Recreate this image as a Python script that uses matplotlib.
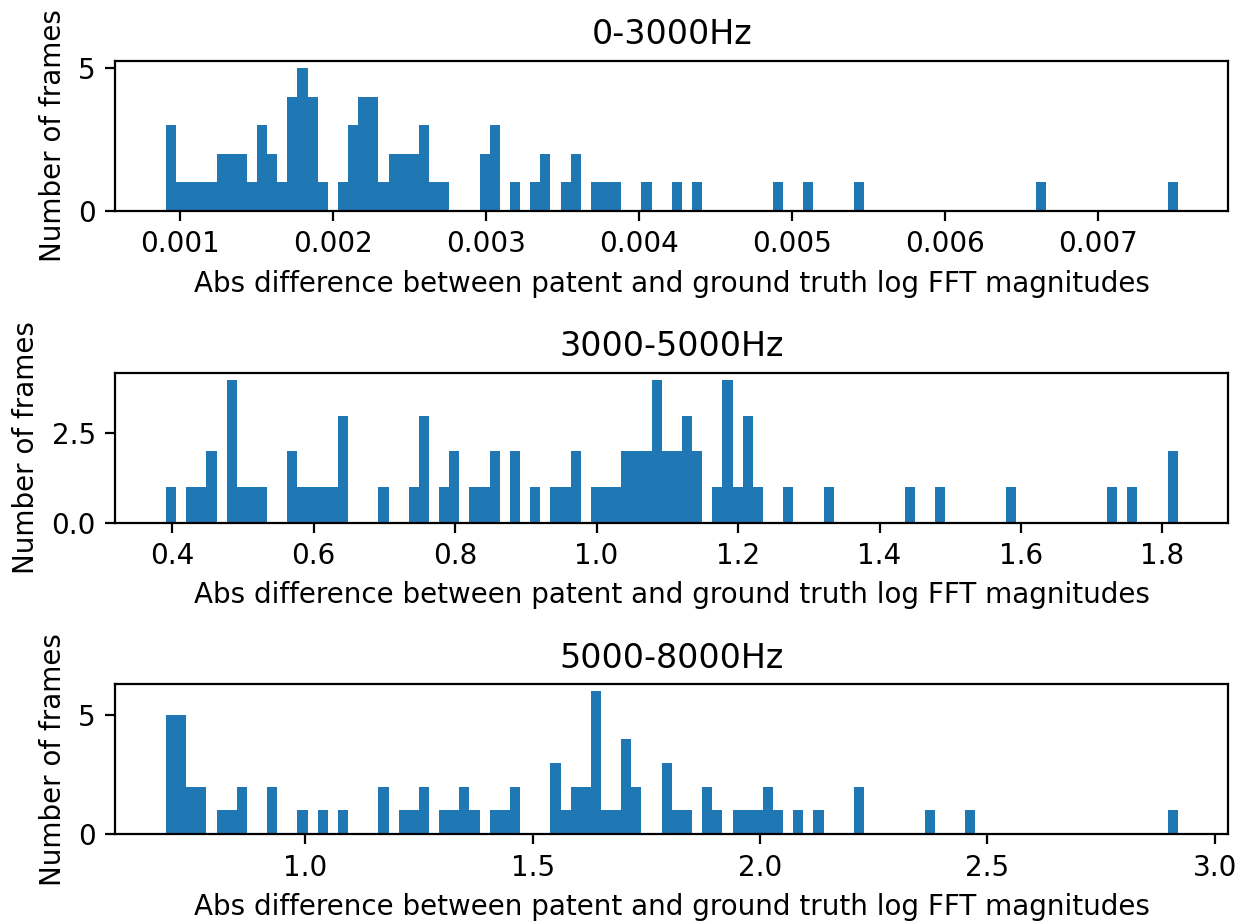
import numpy as np
import matplotlib
matplotlib.use("Agg")
import matplotlib.pyplot as plt

titles = ["0-3000Hz", "3000-5000Hz", "5000-8000Hz"]
xlabel = "Abs difference between patent and ground truth log FFT magnitudes"
ylabel = "Number of frames"

# histogram ranges (min, max of data) and 100-bin counts
range_low = [0.000905, 0.3911, 0.6932]
range_high = [0.007523, 1.8216, 2.9189]

counts_low = [
    3, 1, 1, 1, 1, 2, 2, 2, 1, 3,
    2, 1, 4, 5, 4, 1, 0, 1, 3, 4,
    4, 1, 2, 2, 2, 3, 1, 1, 0, 0,
    0, 2, 3, 0, 1, 0, 1, 2, 0, 1,
    2, 0, 1, 1, 1, 0, 0, 1, 0, 0,
    1, 0, 1, 0, 0, 0, 0, 0, 0, 0,
    1, 0, 0, 1, 0, 0, 0, 0, 1, 0,
    0, 0, 0, 0, 0, 0, 0, 0, 0, 0,
    0, 0, 0, 0, 0, 0, 1, 0, 0, 0,
    0, 0, 0, 0, 0, 0, 0, 0, 0, 1,
]
counts_mid = [
    1, 0, 1, 1, 2, 0, 4, 1, 1, 1,
    0, 0, 2, 1, 1, 1, 1, 3, 0, 0,
    0, 1, 0, 0, 1, 3, 0, 1, 2, 0,
    1, 1, 2, 0, 2, 0, 1, 0, 1, 1,
    2, 0, 1, 1, 1, 2, 2, 2, 4, 2,
    2, 3, 2, 0, 1, 4, 1, 3, 1, 0,
    0, 1, 0, 0, 0, 1, 0, 0, 0, 0,
    0, 0, 0, 1, 0, 0, 1, 0, 0, 0,
    0, 0, 0, 1, 0, 0, 0, 0, 0, 0,
    0, 0, 0, 1, 0, 1, 0, 0, 0, 2,
]
counts_high = [
    5, 5, 2, 2, 0, 1, 1, 2, 0, 0,
    2, 0, 0, 1, 0, 1, 0, 1, 0, 0,
    0, 2, 0, 1, 1, 2, 0, 1, 1, 2,
    1, 0, 1, 1, 2, 0, 0, 0, 3, 1,
    2, 2, 6, 1, 1, 4, 2, 0, 0, 3,
    1, 1, 0, 2, 1, 0, 1, 1, 1, 2,
    1, 0, 1, 0, 1, 0, 0, 0, 2, 0,
    0, 0, 0, 0, 0, 1, 0, 0, 0, 1,
    0, 0, 0, 0, 0, 0, 0, 0, 0, 0,
    0, 0, 0, 0, 0, 0, 0, 0, 0, 1,
]
all_counts = [counts_low, counts_mid, counts_high]
yticks = [[0, 5], [0, 2.5], [0, 5]]

W, H, DPI = 1247, 923, 200
fig, axes = plt.subplots(3, 1, figsize=(W / DPI, H / DPI), dpi=DPI)
fig.subplots_adjust(left=0.0925, right=0.985, bottom=0.0961, top=0.9339, hspace=1.077)

for ax, title, lo, hi, cnt, yt in zip(axes, titles, range_low, range_high, all_counts, yticks):
    edges = np.linspace(lo, hi, len(cnt) + 1)
    centers = 0.5 * (edges[:-1] + edges[1:])
    ax.hist(centers, bins=edges, weights=cnt, color="#1f77b4")
    ax.set_yticks(yt)
    ax.set_title(title)
    ax.set_xlabel(xlabel)
    ax.set_ylabel(ylabel)

fig.savefig("out.png", dpi=DPI)
